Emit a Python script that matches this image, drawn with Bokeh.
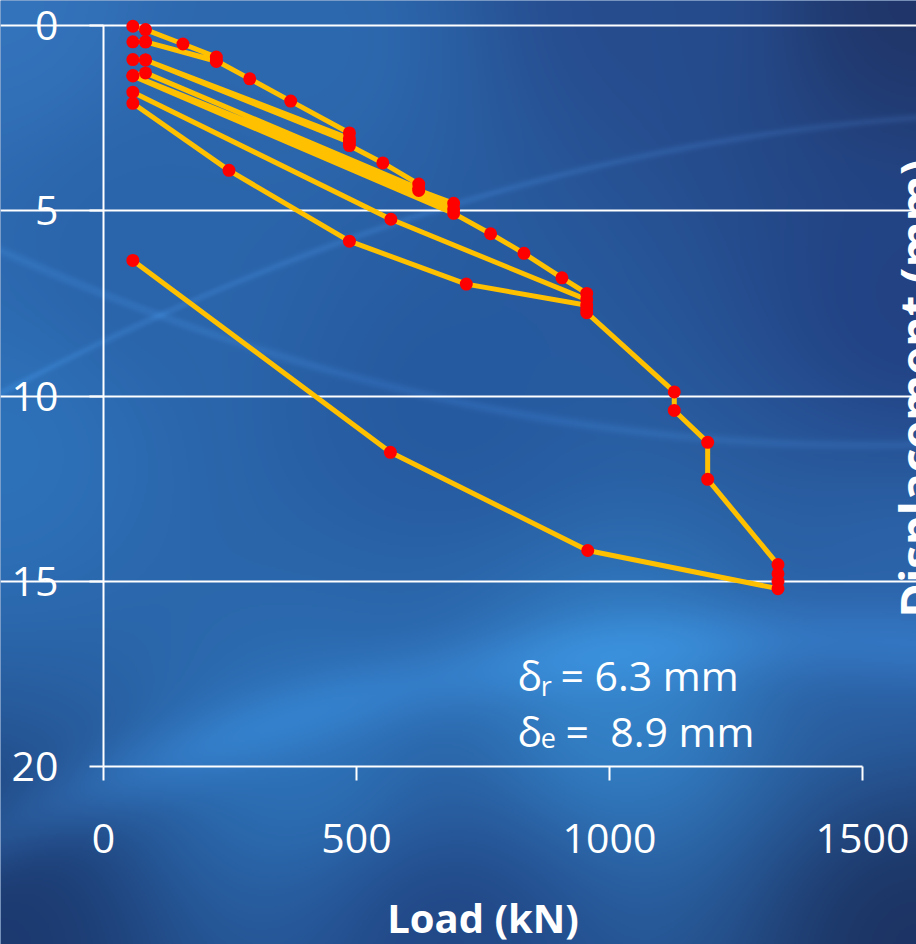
import numpy as np
from math import pi
from bokeh.plotting import figure
from bokeh.models import (Range1d, LinearAxis, FixedTicker, Grid, Label, ColumnDataSource)
from bokeh.embed import file_html
from bokeh.resources import INLINE

# ---- data ----
load_kn = [58, 83, 157, 223, 223, 83, 58, 83, 223, 289, 370, 486, 486, 83, 58, 83,
           486, 486, 552, 623, 623, 83, 58, 623, 692, 692, 58, 692, 765, 831, 906,
           955, 955, 568, 58, 58, 248, 486, 717, 955, 955, 955, 1128, 1128, 1194,
           1194, 1333, 1333, 1333, 1333, 957, 567, 58]
disp_mm = [0.02, 0.11, 0.50, 0.85, 0.97, 0.44, 0.44, 0.44, 0.95, 1.44, 2.04, 2.90,
           3.05, 0.93, 0.92, 0.93, 3.15, 3.24, 3.71, 4.28, 4.40, 1.28, 1.35, 4.45,
           4.80, 4.95, 1.36, 5.07, 5.62, 6.15, 6.81, 7.23, 7.40, 5.23, 1.80, 2.10,
           3.91, 5.82, 6.98, 7.55, 7.65, 7.75, 9.89, 10.39, 11.25, 12.25, 14.55,
           14.80, 15.00, 15.20, 14.17, 11.52, 6.34]
x_ticks = [0, 500, 1000, 1500]
y_ticks = [0, 5, 10, 15, 20]
x_title = "Load (kN)"
y_title = "Displacement (mm)"
note_symbols = ["\u03b4", "\u03b4"]
note_subs = ["r", "e"]
note_texts = ["= 6.3 mm", "=\u00a0 8.9 mm"]

W, H = 916, 944
X0, X1 = -203.56, 1606.72
YTOP, YBOT = -0.6748, 24.804

p = figure(width=W, height=H, x_range=Range1d(X0, X1), y_range=Range1d(YBOT, YTOP),
           x_axis_location=None, y_axis_location=None, toolbar_location=None,
           output_backend="svg", min_border=0, outline_line_color=None,
           background_fill_color="#2a5ea5", border_fill_color="#2a5ea5")
for g in p.grid:
    g.visible = False

# ---- decorative blue background (screen-space gradient) ----
h, w = 472, 458
ys = (np.arange(h) + 0.5) / h * H      # row 0 = top of screen
xs = (np.arange(w) + 0.5) / w * W
XX, YY = np.meshgrid(xs, ys)
anchors = [
    (0, 0, (52, 116, 188)), (300, 40, (45, 105, 175)), (650, 0, (38, 76, 142)),
    (916, 0, (32, 54, 106)), (916, 300, (34, 66, 132)), (0, 450, (46, 114, 186)),
    (450, 400, (38, 90, 160)), (916, 600, (44, 100, 170)), (620, 700, (52, 130, 200)),
    (300, 750, (45, 112, 182)), (0, 944, (28, 58, 112)), (450, 944, (34, 72, 135)),
    (916, 944, (28, 52, 100)), (150, 250, (42, 100, 170)),
]
num = np.zeros((h, w, 3)); den = np.zeros((h, w))
for ax, ay, col in anchors:
    wgt = 1.0 / (((XX - ax) ** 2 + (YY - ay) ** 2) + 2000.0) ** 1.3
    num += wgt[..., None] * np.array(col, float)
    den += wgt
rgb = num / den[..., None]
# soft light streaks
yc = 640 + 0.0003 * (XX - 800) ** 2
rgb += np.exp(-((YY - yc) / 40.0) ** 2)[..., None] * np.array([8, 18, 24])
yc = 393 - 0.53 * XX + 0.00025 * XX ** 2
rgb += np.exp(-((YY - yc) / 4.0) ** 2)[..., None] * np.array([10, 16, 20]) * 0.8
yc = 250 + 0.45 * XX - 0.00026 * XX ** 2
rgb += np.exp(-((YY - yc) / 5.0) ** 2)[..., None] * np.array([10, 16, 20]) * 0.7
rgb = np.clip(rgb, 0, 255).astype(np.uint8)
img = np.empty((h, w), dtype=np.uint32)
view = img.view(dtype=np.uint8).reshape((h, w, 4))
view[..., 0] = rgb[..., 0]; view[..., 1] = rgb[..., 1]; view[..., 2] = rgb[..., 2]; view[..., 3] = 255
p.image_rgba(image=[img], x=(X0 + X1) / 2, y=(YTOP + YBOT) / 2,
             dw=X1 - X0, dh=YBOT - YTOP, anchor="center", level="image")

FONT = "Open Sans"

# ---- axes ----
xaxis = LinearAxis(fixed_location=20, bounds=(0, 1500), ticker=FixedTicker(ticks=x_ticks),
                   axis_label=x_title)
yaxis = LinearAxis(fixed_location=0, bounds=(0, 20), ticker=FixedTicker(ticks=y_ticks))
for ax in (xaxis, yaxis):
    ax.axis_line_color = "white"
    ax.axis_line_width = 2
    ax.major_tick_line_color = "white"
    ax.major_tick_line_width = 2
    ax.major_tick_out = 14
    ax.major_tick_in = 0
    ax.minor_tick_line_color = None
    ax.major_label_text_color = "white"
    ax.major_label_text_font = FONT
    ax.major_label_text_font_size = "41px"
xaxis.major_label_standoff = 43
yaxis.major_label_standoff = 31
xaxis.axis_label_text_color = "white"
xaxis.axis_label_text_font = FONT
xaxis.axis_label_text_font_size = "40px"
xaxis.axis_label_text_font_style = "bold"
xaxis.axis_label_standoff = 34
p.add_layout(xaxis, "below")
p.add_layout(yaxis, "left")

grid = Grid(dimension=1, ticker=FixedTicker(ticks=y_ticks[:-1]), bounds=(0, 1500),
            grid_line_color="white", grid_line_width=2)
p.add_layout(grid)

# ---- data ----
src = ColumnDataSource(dict(load=load_kn, disp=disp_mm))
p.line("load", "disp", source=src, line_color="#FFC000", line_width=5, line_join="round")
p.scatter("load", "disp", source=src, size=13, fill_color="#FF0000", line_color=None)

# ---- annotation ----
rows_y = [17.54, 19.03]
sub_y = [17.81, 19.22]
txt_x = [903, 913]
for i in range(2):
    p.add_layout(Label(x=818, y=rows_y[i], text=note_symbols[i], text_color="white",
                       text_font=FONT, text_font_size="41px", text_baseline="alphabetic"))
    p.add_layout(Label(x=864, y=sub_y[i], text=note_subs[i], text_color="white",
                       text_font=FONT, text_font_size="27px", text_baseline="alphabetic"))
    p.add_layout(Label(x=txt_x[i], y=rows_y[i], text=note_texts[i], text_color="white",
                       text_font=FONT, text_font_size="41px", text_baseline="alphabetic"))

# y-axis title, on the right edge (clipped like the reference)
p.add_layout(Label(x=1606, y=9.8, text=y_title, angle=pi / 2, text_align="center",
                   text_baseline="alphabetic", text_color="white", text_font=FONT,
                   text_font_size="47px", text_font_style="bold"))

open("out.html", "w").write(file_html(p, INLINE))
